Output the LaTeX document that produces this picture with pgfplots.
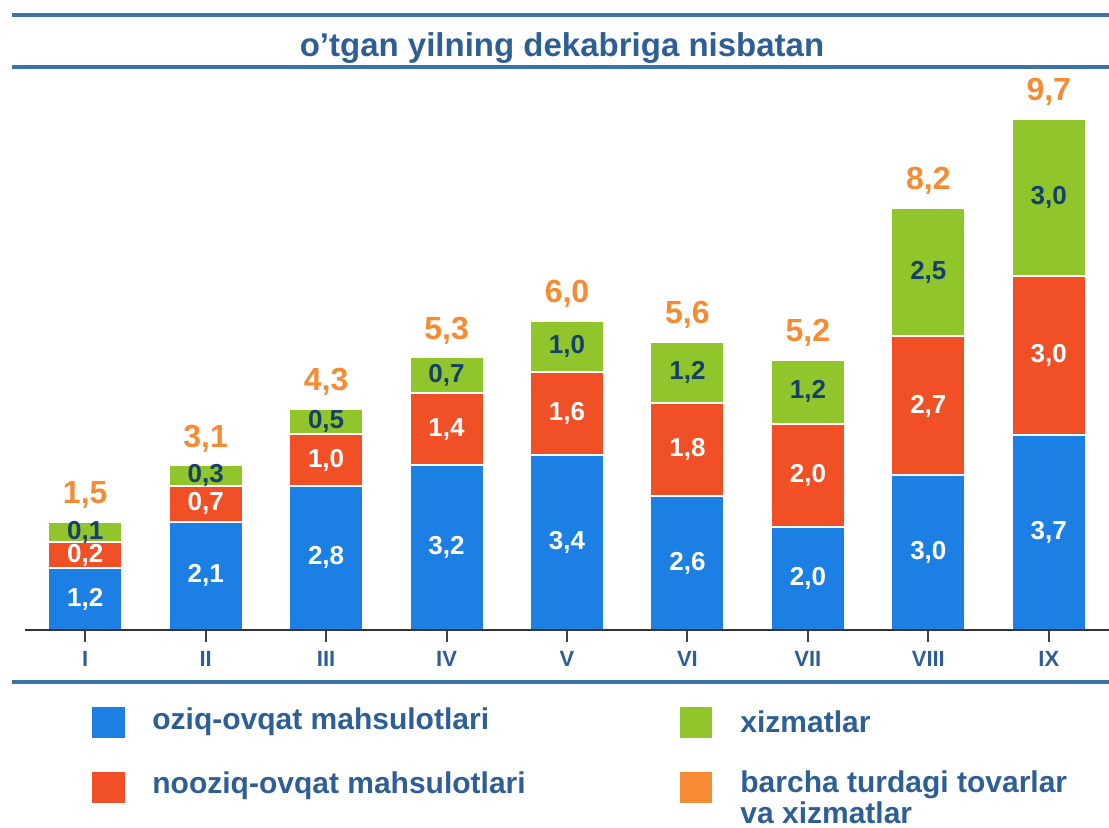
\documentclass[border=0pt]{standalone}
\usepackage{fontspec}
\setmainfont{Liberation Sans}
\usepackage{pgfplots}
\usepackage{pgfplotstable}
\pgfplotsset{compat=1.18}
\definecolor{foodblue}{HTML}{1B7FE3}
\definecolor{nonred}{HTML}{F14F26}
\definecolor{servgreen}{HTML}{90C62C}
\definecolor{totorange}{HTML}{F68B33}
\definecolor{navytxt}{HTML}{173F6C}
\definecolor{steel}{HTML}{2D5F96}
\definecolor{rulecol}{HTML}{3B72A8}

% h* = segment height as drawn, l* = printed value,
% top = drawn top of the stack, tot = printed total
\pgfplotstableread{
x hf hn hs top lf ln ls tot
0 1.2 0.50 0.40 2.1 1,2 0,2 0,1 1,5
1 2.1 0.70 0.40 3.2 2,1 0,7 0,3 3,1
2 2.8 1.00 0.50 4.3 2,8 1,0 0,5 4,3
3 3.2 1.40 0.70 5.3 3,2 1,4 0,7 5,3
4 3.4 1.60 1.00 6.0 3,4 1,6 1,0 6,0
5 2.6 1.80 1.20 5.6 2,6 1,8 1,2 5,6
6 2.0 2.00 1.25 5.25 2,0 2,0 1,2 5,2
7 3.0 2.70 2.50 8.2 3,0 2,7 2,5 8,2
8 3.78 3.10 3.05 9.93 3,7 3,0 3,0 9,7
}\cpi

\pgfplotsset{common/.style={
  scale only axis, width=542pt, height=270.4pt,
  xmin=-0.5, xmax=8.5, ymin=0, ymax=10.5, clip=false}}

\begin{document}
\begin{tikzpicture}
\path[use as bounding box] (-12.5pt,-99pt) rectangle (542pt,315pt);
\begin{axis}[
  common,
  ybar stacked, bar width=37pt,
  axis x line*=bottom, axis y line=none,
  x axis line style={draw=black!80, line width=1pt},
  xtick={0,...,8}, xticklabels={I,II,III,IV,V,VI,VII,VIII,IX},
  xtick align=outside, major tick length=6pt,
  xtick style={draw=black!75, line width=1pt},
  xticklabel style={font=\fontsize{11}{11}\selectfont\bfseries, text=steel, yshift=-1pt},
  axis on top,
  point meta=explicit symbolic,
  nodes near coords,
  every node near coord/.style={anchor=center, inner sep=0pt,
    font=\fontsize{13}{13}\selectfont\bfseries},
]
\addplot[fill=foodblue, draw=white, line width=1pt,
  every node near coord/.append style={text=white}]
  table[x=x, y=hf, meta=lf]{\cpi};
\addplot[fill=nonred, draw=white, line width=1pt,
  every node near coord/.append style={text=white}]
  table[x=x, y=hn, meta=ln]{\cpi};
\addplot[fill=servgreen, draw=white, line width=1pt,
  every node near coord/.append style={text=navytxt}]
  table[x=x, y=hs, meta=ls]{\cpi};
\end{axis}

% totals above the stacks
\begin{axis}[common, hide axis,
  point meta=explicit symbolic, nodes near coords,
  every node near coord/.style={anchor=base, inner sep=0pt, text=totorange,
    font=\fontsize{16}{16}\selectfont\bfseries, yshift=9pt}]
\addplot[only marks, mark=*, mark size=0pt, mark options={draw=none, fill=none}]
  table[x=x, y=top, meta=tot]{\cpi};
\end{axis}

% title band
\draw[rulecol, line width=2pt] (-6.5pt,307.5pt) -- (542pt,307.5pt);
\draw[rulecol, line width=2pt] (-6.5pt,281.5pt) -- (542pt,281.5pt);
\node[text=steel, font=\fontsize{16.5}{18}\selectfont\bfseries] at (268.5pt,291pt) {o'tgan yilning dekabriga nisbatan};
\draw[rulecol, line width=2pt] (-6.5pt,-26pt) -- (542pt,-26pt);

% legend
\fill[foodblue]  (33.5pt,-38.5pt) rectangle (50pt,-54pt);
\fill[nonred]    (33.5pt,-71pt) rectangle (50pt,-86.5pt);
\fill[servgreen] (327.5pt,-38.5pt) rectangle (343.5pt,-54pt);
\fill[totorange] (327.5pt,-71pt) rectangle (343.5pt,-86.5pt);
\begin{scope}[every node/.style={text=steel, anchor=west, inner sep=0pt,
    font=\fontsize{15}{15.5}\selectfont\bfseries}]
\node at (63.5pt,-46pt) {oziq-ovqat mahsulotlari};
\node at (63.5pt,-78pt) {nooziq-ovqat mahsulotlari};
\node at (357.5pt,-46pt) {xizmatlar};
\node[anchor=north west, align=left] at (357.5pt,-70pt) {barcha turdagi tovarlar\\va xizmatlar};
\end{scope}
\end{tikzpicture}
\end{document}
